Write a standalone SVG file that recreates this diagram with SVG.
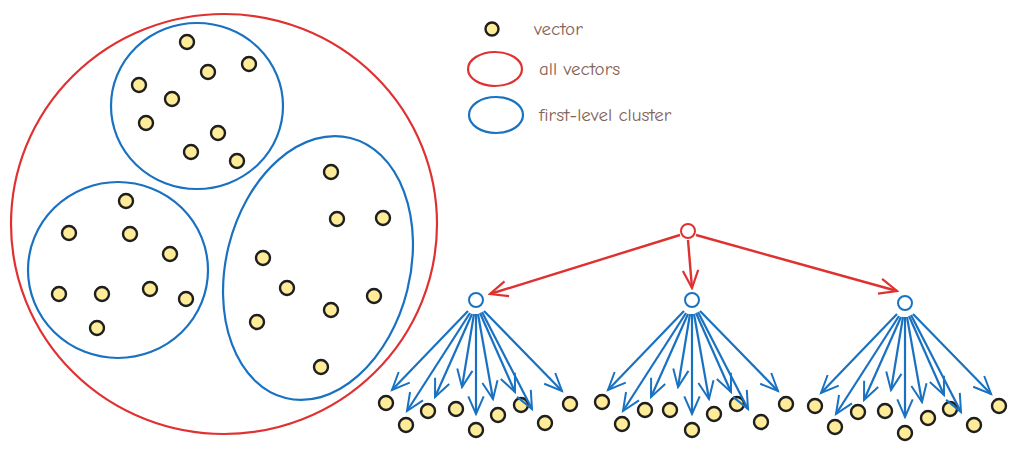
<svg xmlns="http://www.w3.org/2000/svg" width="1017" height="451" viewBox="0 0 1017 451">
<style>
.d{fill:#ffec99;stroke:#1e1e1e;stroke-width:2.4}
.r{fill:none;stroke:#e03131;stroke-width:2.2}
.b{fill:none;stroke:#1971c2;stroke-width:2.2}
.t{font-family:"Comic Neue","Liberation Sans",sans-serif;font-size:19px;fill:#846358}
.ba{stroke:#1971c2;stroke-width:2.2;fill:none;marker-end:url(#mb)}
.ra{stroke:#e03131;stroke-width:2.4;fill:none;marker-end:url(#mr)}
</style>
<defs>
<marker id="mb" viewBox="0 0 20 20" refX="18" refY="10" markerWidth="22" markerHeight="22" markerUnits="userSpaceOnUse" orient="auto"><path d="M2,3 L18,10 L2,17" fill="none" stroke="#1971c2" stroke-width="1.8"/></marker>
<marker id="mr" viewBox="0 0 20 20" refX="18" refY="10" markerWidth="22" markerHeight="22" markerUnits="userSpaceOnUse" orient="auto"><path d="M2,3 L18,10 L2,17" fill="none" stroke="#e03131" stroke-width="2"/></marker>
</defs>
<g id="legend">
<circle class="d" cx="492" cy="29" r="6.5"/><text class="t" x="534" y="35">vector</text>
<ellipse class="r" cx="495" cy="69" rx="27" ry="17"/><text class="t" x="539" y="75">all vectors</text>
<ellipse class="b" cx="496" cy="115" rx="27" ry="18"/><text class="t" x="539" y="121">first-level cluster</text>
</g>
<g id="all-vectors"><ellipse class="r" cx="224" cy="224" rx="213" ry="210"/></g>
<g id="cluster-top"><ellipse class="b" cx="197" cy="106" rx="86" ry="83"/></g>
<g id="cluster-left"><ellipse class="b" cx="118" cy="270" rx="90" ry="88"/></g>
<g id="cluster-right"><ellipse class="b" cx="318" cy="268" rx="92" ry="134" transform="rotate(14 318 268)"/></g>
<g id="vectors">
<circle class="d" cx="187" cy="42" r="7"/><circle class="d" cx="249" cy="64" r="7"/><circle class="d" cx="208" cy="72" r="7"/><circle class="d" cx="139" cy="85" r="7"/><circle class="d" cx="172" cy="99" r="7"/><circle class="d" cx="146" cy="123" r="7"/><circle class="d" cx="218" cy="133" r="7"/><circle class="d" cx="191" cy="152" r="7"/><circle class="d" cx="237" cy="161" r="7"/>
<circle class="d" cx="126" cy="201" r="7"/><circle class="d" cx="69" cy="233" r="7"/><circle class="d" cx="130" cy="234" r="7"/><circle class="d" cx="170" cy="254" r="7"/><circle class="d" cx="59" cy="294" r="7"/><circle class="d" cx="102" cy="294" r="7"/><circle class="d" cx="150" cy="289" r="7"/><circle class="d" cx="186" cy="299" r="7"/><circle class="d" cx="97" cy="328" r="7"/>
<circle class="d" cx="331" cy="172" r="7"/><circle class="d" cx="337" cy="219" r="7"/><circle class="d" cx="383" cy="218" r="7"/><circle class="d" cx="263" cy="258" r="7"/><circle class="d" cx="287" cy="288" r="7"/><circle class="d" cx="331" cy="310" r="7"/><circle class="d" cx="374" cy="296" r="7"/><circle class="d" cx="257" cy="322" r="7"/><circle class="d" cx="321" cy="367" r="7"/>
</g>
<g id="root"><circle cx="688" cy="231" r="7" fill="none" stroke="#e03131" stroke-width="2"/></g>
<g id="level1">
<circle cx="476" cy="300" r="7" fill="none" stroke="#1971c2" stroke-width="2"/>
<circle cx="692" cy="300" r="7" fill="none" stroke="#1971c2" stroke-width="2"/>
<circle cx="905" cy="303" r="7" fill="none" stroke="#1971c2" stroke-width="2"/>
</g>
<g id="leaves">
<circle class="d" cx="386" cy="403" r="7"/><circle class="d" cx="406" cy="425" r="7"/><circle class="d" cx="428" cy="411" r="7"/><circle class="d" cx="456" cy="409" r="7"/><circle class="d" cx="476" cy="430" r="7"/><circle class="d" cx="498" cy="415" r="7"/><circle class="d" cx="521" cy="405" r="7"/><circle class="d" cx="545" cy="423" r="7"/><circle class="d" cx="570" cy="404" r="7"/>
<circle class="d" cx="602" cy="402" r="7"/><circle class="d" cx="622" cy="424" r="7"/><circle class="d" cx="645" cy="410" r="7"/><circle class="d" cx="670" cy="410" r="7"/><circle class="d" cx="692" cy="430" r="7"/><circle class="d" cx="714" cy="414" r="7"/><circle class="d" cx="737" cy="404" r="7"/><circle class="d" cx="761" cy="422" r="7"/><circle class="d" cx="786" cy="404" r="7"/>
<circle class="d" cx="815" cy="406" r="7"/><circle class="d" cx="835" cy="427" r="7"/><circle class="d" cx="858" cy="412" r="7"/><circle class="d" cx="885" cy="411" r="7"/><circle class="d" cx="905" cy="433" r="7"/><circle class="d" cx="928" cy="418" r="7"/><circle class="d" cx="950" cy="409" r="7"/><circle class="d" cx="974" cy="425" r="7"/><circle class="d" cx="999" cy="406" r="7"/>
</g>
<g id="connectors">
<line class="ra" x1="680" y1="235" x2="490" y2="294"/>
<line class="ra" x1="688" y1="240" x2="692" y2="288"/>
<line class="ra" x1="696" y1="235" x2="897" y2="291"/>
<g>
<line class="ba" x1="468" y1="311" x2="392" y2="390"/><line class="ba" x1="470" y1="313" x2="407" y2="411"/><line class="ba" x1="472" y1="314" x2="435" y2="397"/><line class="ba" x1="474" y1="314" x2="462" y2="387"/><line class="ba" x1="476" y1="314" x2="476" y2="414"/><line class="ba" x1="478" y1="314" x2="493" y2="399"/><line class="ba" x1="480" y1="313" x2="515" y2="392"/><line class="ba" x1="482" y1="312" x2="532" y2="409"/><line class="ba" x1="484" y1="311" x2="562" y2="391"/>
</g>
<g transform="translate(216,0)">
<line class="ba" x1="468" y1="311" x2="392" y2="390"/><line class="ba" x1="470" y1="313" x2="407" y2="411"/><line class="ba" x1="472" y1="314" x2="435" y2="397"/><line class="ba" x1="474" y1="314" x2="462" y2="387"/><line class="ba" x1="476" y1="314" x2="476" y2="414"/><line class="ba" x1="478" y1="314" x2="493" y2="399"/><line class="ba" x1="480" y1="313" x2="515" y2="392"/><line class="ba" x1="482" y1="312" x2="532" y2="409"/><line class="ba" x1="484" y1="311" x2="562" y2="391"/>
</g>
<g transform="translate(429,3)">
<line class="ba" x1="468" y1="311" x2="392" y2="390"/><line class="ba" x1="470" y1="313" x2="407" y2="411"/><line class="ba" x1="472" y1="314" x2="435" y2="397"/><line class="ba" x1="474" y1="314" x2="462" y2="387"/><line class="ba" x1="476" y1="314" x2="476" y2="414"/><line class="ba" x1="478" y1="314" x2="493" y2="399"/><line class="ba" x1="480" y1="313" x2="515" y2="392"/><line class="ba" x1="482" y1="312" x2="532" y2="409"/><line class="ba" x1="484" y1="311" x2="562" y2="391"/>
</g>
</g>
</svg>
